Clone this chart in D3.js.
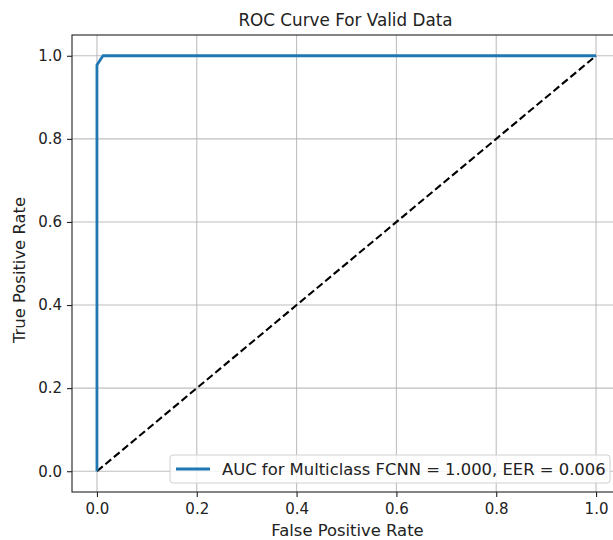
<!DOCTYPE html>
<html>
<head>
<meta charset="utf-8">
<script src="https://cdn.jsdelivr.net/npm/d3@7"></script>
<style>
  body { margin: 0; background: #fff; }
  text { font-family: "DejaVu Sans", sans-serif; fill: #222; }
</style>
</head>
<body>
<div id="chart"></div>
<script>
// ROC points
var fprValues = [0, 0, 0.012, 1];
var tprValues = [0, 0.978, 1, 1];
var chanceX = [0, 1];
var chanceY = [0, 1];
var tickValues = [0, 0.2, 0.4, 0.6, 0.8, 1.0];
var legendLabel = "AUC for Multiclass FCNN = 1.000, EER = 0.006";

var W = 613, H = 540;
var plot = { left: 72, right: 621, top: 35, bottom: 492 };

var svg = d3.select("#chart").append("svg")
  .attr("width", W)
  .attr("height", H);

var x = d3.scaleLinear().domain([-0.05, 1.05]).range([plot.left, plot.right]);
var y = d3.scaleLinear().domain([-0.05, 1.05]).range([plot.bottom, plot.top]);

// grid
var grid = svg.append("g");
grid.selectAll("line.gx")
  .data(tickValues)
  .enter()
  .append("line")
  .attr("class", "gx")
  .attr("x1", function(d) { return x(d); })
  .attr("x2", function(d) { return x(d); })
  .attr("y1", plot.top)
  .attr("y2", plot.bottom)
  .style("stroke", "#b0b0b0")
  .style("stroke-width", "1.1px")
  .style("opacity", 0.8);
grid.selectAll("line.gy")
  .data(tickValues)
  .enter()
  .append("line")
  .attr("class", "gy")
  .attr("x1", plot.left)
  .attr("x2", plot.right)
  .attr("y1", function(d) { return y(d); })
  .attr("y2", function(d) { return y(d); })
  .style("stroke", "#b0b0b0")
  .style("stroke-width", "1.1px")
  .style("opacity", 0.8);

// chance line
var line = d3.line()
  .x(function(d) { return x(d[0]); })
  .y(function(d) { return y(d[1]); });

svg.append("path")
  .datum(d3.zip(chanceX, chanceY))
  .attr("d", line)
  .style("fill", "none")
  .style("stroke", "black")
  .style("stroke-width", "2.1px")
  .style("stroke-dasharray", "7.5,3.5");

// ROC curve
svg.append("path")
  .datum(d3.zip(fprValues, tprValues))
  .attr("d", line)
  .style("fill", "none")
  .style("stroke", "#1f77b4")
  .style("stroke-width", "2.8px")
  .style("stroke-linejoin", "round");

// spines
svg.append("rect")
  .attr("x", plot.left)
  .attr("y", plot.top)
  .attr("width", plot.right - plot.left)
  .attr("height", plot.bottom - plot.top)
  .style("fill", "none")
  .style("stroke", "#222")
  .style("stroke-width", "1.1px");

// axes
var xAxis = d3.axisBottom(x).tickValues(tickValues).tickSize(5).tickPadding(6)
  .tickFormat(d3.format(".1f"));
var yAxis = d3.axisLeft(y).tickValues(tickValues).tickSize(5).tickPadding(5)
  .tickFormat(d3.format(".1f"));

var gx = svg.append("g").attr("transform", "translate(0," + plot.bottom + ")").call(xAxis);
var gy = svg.append("g").attr("transform", "translate(" + plot.left + ",0)").call(yAxis);
[gx, gy].forEach(function(g) {
  g.select(".domain").remove();
  g.selectAll(".tick line").style("stroke", "#222").style("stroke-width", "1.1px");
  g.selectAll(".tick text").style("font-size", "15px").style("font-family", "DejaVu Sans, sans-serif").style("fill", "#222");
});

// labels
svg.append("text")
  .attr("x", (plot.left + plot.right) / 2 - 1)
  .attr("y", 26)
  .attr("text-anchor", "middle")
  .style("font-size", "16.8px")
  .text("ROC Curve For Valid Data");

svg.append("text")
  .attr("x", (plot.left + plot.right) / 2 + 1)
  .attr("y", 536)
  .attr("text-anchor", "middle")
  .style("font-size", "16.4px")
  .text("False Positive Rate");

svg.append("text")
  .attr("transform", "translate(25," + 270 + ") rotate(-90)")
  .attr("text-anchor", "middle")
  .style("font-size", "16.4px")
  .text("True Positive Rate");

// legend
var lg = svg.append("g");
lg.append("rect")
  .attr("x", 170)
  .attr("y", 455)
  .attr("width", 440)
  .attr("height", 28)
  .attr("rx", 3)
  .style("fill", "white")
  .style("fill-opacity", 0.8)
  .style("stroke", "#d0d0d0")
  .style("stroke-width", "1px");
lg.append("line")
  .attr("x1", 176)
  .attr("x2", 210)
  .attr("y1", 469)
  .attr("y2", 469)
  .style("stroke", "#1f77b4")
  .style("stroke-width", "2.8px");
lg.append("text")
  .attr("x", 222)
  .attr("y", 475)
  .style("font-size", "16.4px")
  .text(legendLabel);
</script>
</body>
</html>
